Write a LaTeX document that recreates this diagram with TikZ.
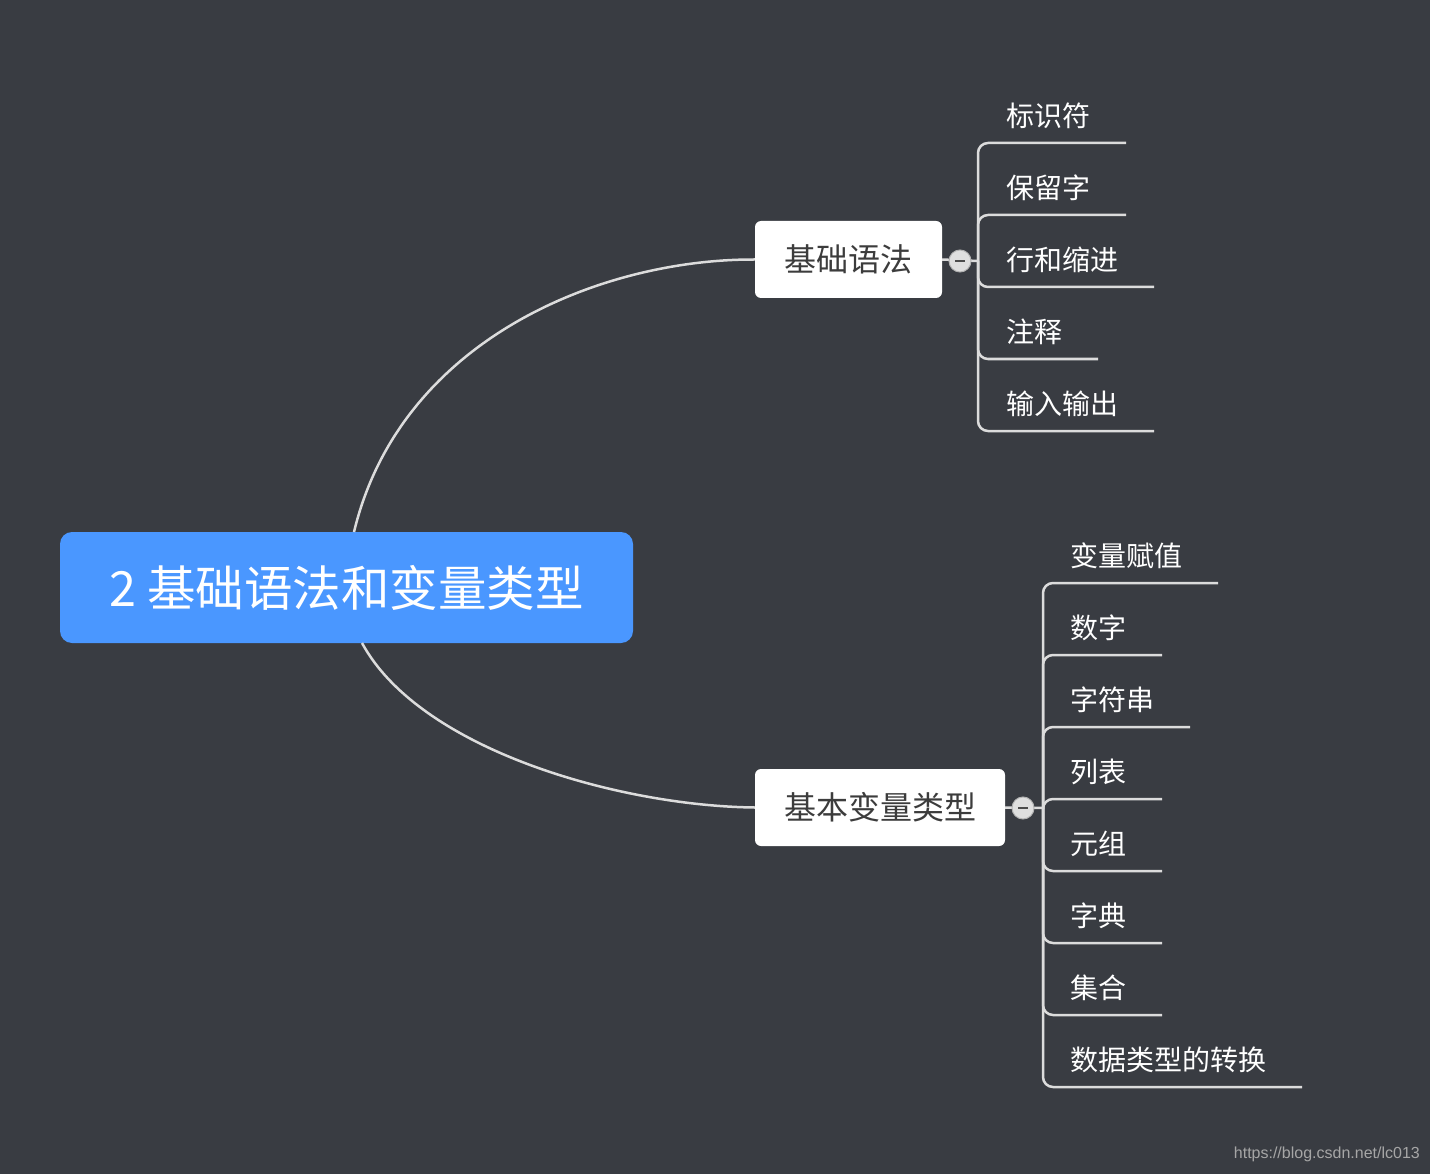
\documentclass[tikz,border=0pt]{standalone}
\usepackage{fontspec}
\setmainfont{Noto Sans CJK SC}
\newfontfamily\wmfont{Liberation Sans}
\definecolor{bg}{RGB}{57,60,66}
\definecolor{rootblue}{RGB}{74,151,255}
\definecolor{linec}{RGB}{220,220,220}
\definecolor{boxtext}{RGB}{60,60,60}
\begin{document}
\begin{tikzpicture}[x=1pt,y=-1pt,
  conn/.style={draw=linec,line width=2.5pt},
  branchbox/.style={fill=white,rounded corners=6pt,text=boxtext,font=\fontsize{32}{38}\selectfont,inner sep=0pt},
  leaf/.style={anchor=west,text=white,font=\fontsize{28}{32}\selectfont,inner sep=0pt},
  toggle/.style={circle,draw=gray!60,fill=gray!25,line width=1pt,minimum size=22pt,inner sep=0pt}]
\fill[bg] (0,0) rectangle (1430,1174);
\useasboundingbox (0,0) rectangle (1430,1174);
% root
\node[fill=rootblue,rounded corners=12pt,minimum width=573pt,minimum height=111pt,text=white,font=\fontsize{48.5}{54}\selectfont,inner sep=0pt] (root) at (346.5,587.5) {2 基础语法和变量类型};
\node[branchbox,minimum width=187pt,minimum height=77pt] (b1) at (848.5,259.5) {基础语法};
\node[branchbox,minimum width=250pt,minimum height=77pt] (b2) at (880,807.5) {基本变量类型};
\coordinate (r1) at (354,532);
\coordinate (r2) at (362,643);
\draw[conn] (r1) .. controls (400,340) and (600,259) .. (b1.west);
\draw[conn] (r2) .. controls (420,750) and (620,806) .. (b2.west);
% branch 1 children
\draw[conn] (b1.east) -- (978,261);
\foreach \y/\e/\t [count=\i] in {143/1126/标识符,215/1126/保留字,287/1154/行和缩进,359/1098/注释,431/1154/输入输出}{
  \draw[conn,rounded corners=10pt] (978,261) |- (\e,\y);
  \node[leaf] (a\i) at (1006,\y-27) {\t};
}
\node[toggle] (t1) at (960,261) {};
\draw[line width=2pt,black!70] (955,261) -- (965,261);
% branch 2 children
\draw[conn] (b2.east) -- (1043,808);
\foreach \y/\e/\t [count=\i] in {583/1218/变量赋值,655/1162/数字,727/1190/字符串,799/1162/列表,871/1162/元组,943/1162/字典,1015/1162/集合,1087/1302/数据类型的转换}{
  \draw[conn,rounded corners=10pt] (1043,808) |- (\e,\y);
  \node[leaf] (c\i) at (1070,\y-27) {\t};
}
\node[toggle] (t2) at (1023,808) {};
\draw[line width=2pt,black!70] (1018,808) -- (1028,808);
\node[anchor=east,text=gray!70,font=\wmfont\fontsize{16}{19}\selectfont,inner sep=0pt] (wm) at (1420,1154) {https://blog.csdn.net/lc013};
\end{tikzpicture}
\end{document}
